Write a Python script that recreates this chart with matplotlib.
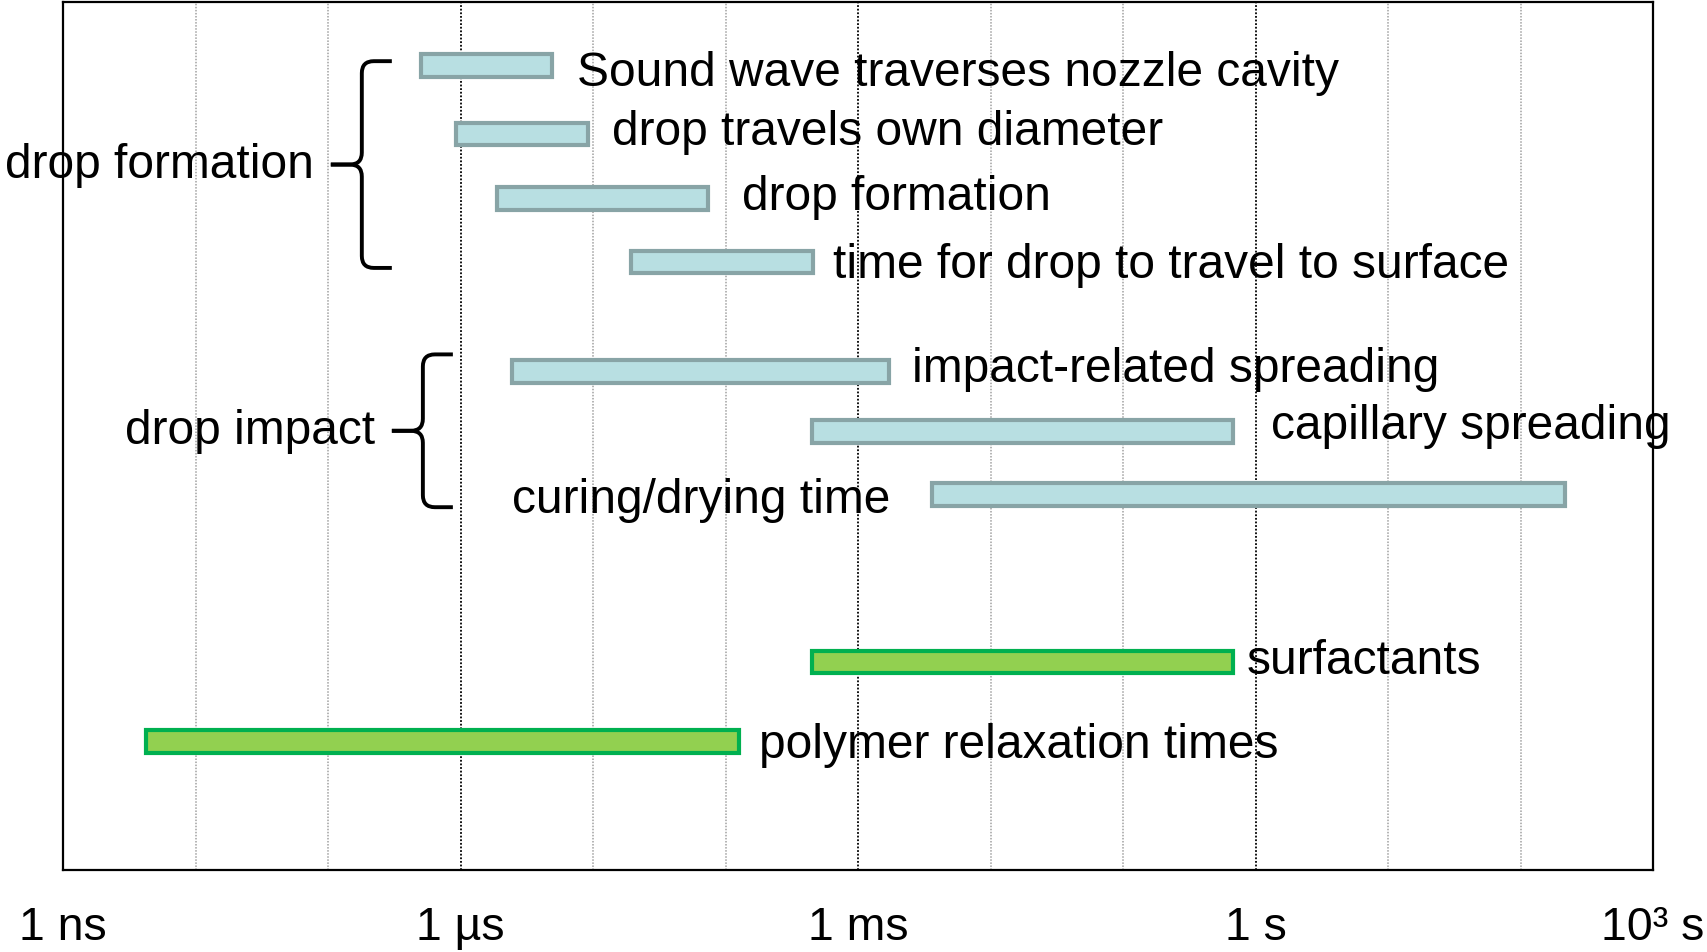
import matplotlib
matplotlib.use("Agg")
import matplotlib.pyplot as plt
from matplotlib.path import Path
from matplotlib.patches import PathPatch
from matplotlib.transforms import IdentityTransform

plt.rcParams['font.family'] = ['Liberation Sans', 'DejaVu Sans']

# time ranges in seconds (start, end)
labels = ["Sound wave traverses nozzle cavity", "drop travels own diameter", "drop formation",
          "time for drop to travel to surface", "impact-related spreading", "capillary spreading",
          "curing/drying time", "surfactants", "polymer relaxation times"]
t_start = [5.0e-7, 9.3e-7, 1.9e-6, 1.95e-5, 2.45e-6, 4.5e-4, 3.6e-3, 4.5e-4, 4.2e-9]
t_end = [4.9e-6, 9.1e-6, 7.4e-5, 4.6e-4, 1.7e-3, 0.68, 215, 0.68, 1.26e-4]
kind = ["ink", "ink", "ink", "ink", "ink", "ink", "ink", "fluid", "fluid"]

tick_vals = [1e-9, 1e-6, 1e-3, 1, 1e3]
tick_labels = ["1 ns", "1 µs", "1 ms", "1 s", "10³ s"]

group_names = ["drop formation", "drop impact"]

# layout (row positions, label offsets in pixels, braces)
row_pos = [0.98, 2.03, 3.02, 4.0, 5.68, 6.6, 7.57, 10.15, 11.37]
lab_dx = [25, 24, 34, 20, 23, 38, -41, 13, 20]
lab_dy = [-6.5, 2, 2, -2, 3, 6, -5.5, 1, -3.3]
brace_x = [1.8e-7, 5.2e-7]
brace_y = [(0.91, 4.09), (5.42, 7.77)]

fill = {"ink": "#b8dfe2", "fluid": "#92d050"}
edge = {"ink": "#88a4a6", "fluid": "#00b050"}

fig = plt.figure(figsize=(17.07, 9.53), dpi=100)
ax = fig.add_axes([63 / 1707, 82 / 953, 1590 / 1707, 868 / 953])
ax.set_xscale('log')
ax.set_xlim(1e-9, 1e3)
ax.set_ylim(13.35, 0)

for e in range(-8, 3):
    major = e % 3 == 0
    ax.axvline(10.0 ** e, color='black' if major else '#a0a0a0', lw=1.3 if major else 1.1,
               ls=(0, (1, 1)), zorder=0)

for i in range(len(labels)):
    k = kind[i]
    ax.barh(row_pos[i], t_end[i] - t_start[i], left=t_start[i], height=0.35,
            color=fill[k], edgecolor=edge[k], linewidth=3, zorder=2)
    if lab_dx[i] > 0:
        ax.annotate(labels[i], (t_end[i], row_pos[i]), xytext=(lab_dx[i], lab_dy[i]),
                    textcoords='offset pixels', ha='left', va='center', fontsize=34.5)
    else:
        ax.annotate(labels[i], (t_start[i], row_pos[i]), xytext=(lab_dx[i], lab_dy[i]),
                    textcoords='offset pixels', ha='right', va='center', fontsize=34.5)

ax.set_xticks(tick_vals)
ax.set_xticklabels(tick_labels, fontsize=33.5)
ax.minorticks_off()
ax.tick_params(axis='x', length=0, pad=25)
ax.set_yticks([])
for s in ax.spines.values():
    s.set_linewidth(1.6)


def draw_brace(x, y0, y1, arm=30, tip=31, r=12):
    X, Yt = ax.transData.transform((x, y0))
    _, Yb = ax.transData.transform((x, y1))
    Ym = (Yt + Yb) / 2
    for Ye, sgn in ((Yt, 1), (Yb, -1)):
        verts = [(X - tip, Ym), (X - r, Ym), (X, Ym), (X, Ym + sgn * r),
                 (X, Ye - sgn * r), (X, Ye), (X + r, Ye), (X + arm, Ye)]
        codes = [Path.MOVETO, Path.LINETO, Path.CURVE3, Path.CURVE3,
                 Path.LINETO, Path.CURVE3, Path.CURVE3, Path.LINETO]
        fig.add_artist(PathPatch(Path(verts, codes), fill=False, lw=2.8, ec='black',
                                 transform=IdentityTransform(), capstyle='butt'))
    return X - tip, Ym


for g in range(len(group_names)):
    tx, ty = draw_brace(brace_x[g], brace_y[g][0], brace_y[g][1])
    fig.text((tx - 17) / 1707, ty / 953, group_names[g], ha='right', va='center', fontsize=34.5)

fig.savefig('out.png', dpi=100)
